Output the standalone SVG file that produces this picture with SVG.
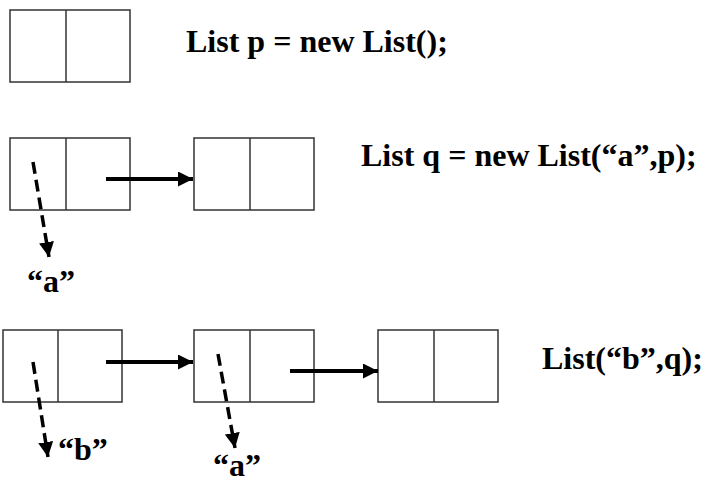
<svg xmlns="http://www.w3.org/2000/svg" width="719" height="484" viewBox="0 0 719 484">
<defs>
<style>
.box{fill:#fff;stroke:#333;stroke-width:1.5}
.div{stroke:#333;stroke-width:1.5}
.lbl{font-family:"Liberation Serif","Times New Roman",serif;font-weight:bold;font-size:32px;fill:#000}
.ptr{stroke:#000;stroke-width:4;fill:none}
.dsh{stroke:#000;stroke-width:3.5;fill:none;stroke-dasharray:12 6}
</style>
<marker id="ah" markerUnits="userSpaceOnUse" markerWidth="16" markerHeight="15" refX="15" refY="7.5" orient="auto" viewBox="0 0 16 15">
<path d="M0,0 L15,7.5 L0,15 z" fill="#000"/>
</marker>
</defs>
<rect width="719" height="484" fill="#fff"/>
<g id="node-p">
<rect class="box" x="10" y="10" width="120" height="72"/>
<line class="div" x1="66" y1="10" x2="66" y2="82"/>
</g>
<text class="lbl" x="186" y="52">List p = new List();</text>
<g id="node-q">
<rect class="box" x="10" y="138" width="120" height="72"/>
<line class="div" x1="66" y1="138" x2="66" y2="210"/>
</g>
<g id="node-q-next">
<rect class="box" x="194" y="138" width="120" height="72"/>
<line class="div" x1="250" y1="138" x2="250" y2="210"/>
</g>
<text class="lbl" x="361" y="166">List q = new List(“a”,p);</text>
<text class="lbl" x="27" y="292">“a”</text>
<g id="node-r1">
<rect class="box" x="3" y="330" width="119" height="72"/>
<line class="div" x1="58" y1="330" x2="58" y2="402"/>
</g>
<g id="node-r2">
<rect class="box" x="194" y="330" width="120" height="72"/>
<line class="div" x1="250" y1="330" x2="250" y2="402"/>
</g>
<g id="node-r3">
<rect class="box" x="378" y="330" width="120" height="72"/>
<line class="div" x1="434" y1="330" x2="434" y2="402"/>
</g>
<text class="lbl" x="542" y="369">List(“b”,q);</text>
<text class="lbl" x="58" y="460">“b”</text>
<text class="lbl" x="213" y="476">“a”</text>
<g id="connectors">
<line class="ptr" x1="106" y1="179" x2="193" y2="179" marker-end="url(#ah)"/>
<line class="dsh" x1="33" y1="162" x2="49" y2="257" marker-end="url(#ah)"/>
<line class="ptr" x1="106" y1="362" x2="193" y2="362" marker-end="url(#ah)"/>
<line class="ptr" x1="290" y1="371" x2="378" y2="371" marker-end="url(#ah)"/>
<line class="dsh" x1="33" y1="362" x2="48" y2="457" marker-end="url(#ah)"/>
<line class="dsh" x1="218" y1="354" x2="235" y2="448" marker-end="url(#ah)"/>
</g>
</svg>
